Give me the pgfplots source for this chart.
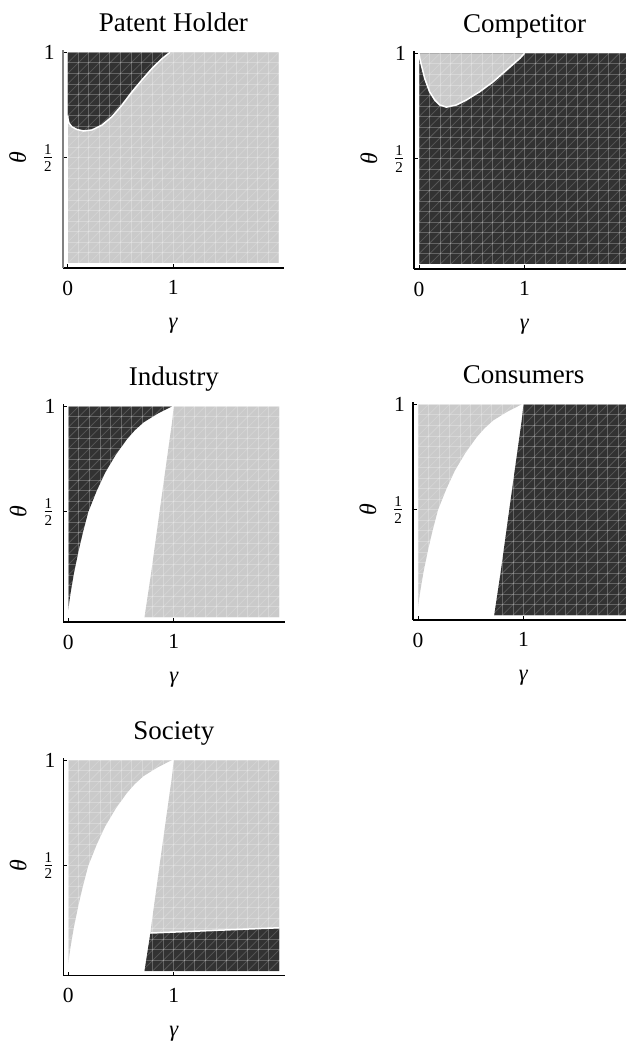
\documentclass[border=0pt]{standalone}
\usepackage{pgfplots}
\pgfplotsset{compat=1.18}
\usepackage{pgfplotstable}
\usepackage{fontspec}
\setmainfont{Liberation Serif}
\definecolor{dk}{HTML}{323232}
\definecolor{lt}{HTML}{CACACA}

% diagonal mesh lines (decoration of the region plots)
\pgfplotstableread{
x y
-2.0 0
0.0 1
nan nan
-1.9 0
0.1 1
nan nan
-1.8 0
0.2 1
nan nan
-1.7 0
0.3 1
nan nan
-1.6 0
0.4 1
nan nan
-1.5 0
0.5 1
nan nan
-1.4 0
0.6 1
nan nan
-1.3 0
0.7 1
nan nan
-1.2 0
0.8 1
nan nan
-1.1 0
0.9 1
nan nan
-1.0 0
1.0 1
nan nan
-0.9 0
1.1 1
nan nan
-0.8 0
1.2 1
nan nan
-0.7 0
1.3 1
nan nan
-0.6 0
1.4 1
nan nan
-0.5 0
1.5 1
nan nan
-0.4 0
1.6 1
nan nan
-0.3 0
1.7 1
nan nan
-0.2 0
1.8 1
nan nan
-0.1 0
1.9 1
nan nan
0.0 0
2.0 1
nan nan
0.1 0
2.1 1
nan nan
0.2 0
2.2 1
nan nan
0.3 0
2.3 1
nan nan
0.4 0
2.4 1
nan nan
0.5 0
2.5 1
nan nan
0.6 0
2.6 1
nan nan
0.7 0
2.7 1
nan nan
0.8 0
2.8 1
nan nan
0.9 0
2.9 1
nan nan
1.0 0
3.0 1
nan nan
1.1 0
3.1 1
nan nan
1.2 0
3.2 1
nan nan
1.3 0
3.3 1
nan nan
1.4 0
3.4 1
nan nan
1.5 0
3.5 1
nan nan
1.6 0
3.6 1
nan nan
1.7 0
3.7 1
nan nan
1.8 0
3.8 1
nan nan
1.9 0
3.9 1
nan nan
2.0 0
4.0 1
}\diag

\pgfplotsset{
  panel/.style={
    anchor=origin, x=42.2pt, y=84.4pt,
    xmin=-0.047, xmax=2.05, ymin=-0.022, ymax=1.01,
    axis lines=left, axis line style={-, black, line width=0.45pt},
    xtick={0,1}, xticklabels={0,1},
    ytick={0.5,1}, yticklabels={$\frac{\mathrm{1}}{\mathrm{2}}$,1},
    tick align=inside, major tick length=1.6pt,
    major tick style={black, line width=0.4pt},
    minor xtick={0,0.1,...,2.01}, minor ytick={0,0.05,...,1.01},
    minor tick length=0pt,
    grid=minor, minor grid style={white, opacity=0.25, line width=0.35pt},
    axis on top,
    /pgf/number format/assume math mode=true,
    tick label style={font=\fontsize{8.6}{10}\selectfont},
    xticklabel style={yshift=-1.6pt},
    yticklabel style={xshift=0.3pt},
    every axis title/.style={at={(axis description cs:0.5,1.085)}, anchor=base,
      font=\fontsize{10.8}{13}\selectfont},
    every axis x label/.style={at={(axis description cs:0.5,-0.278)}, anchor=base,
      font=\fontsize{9}{10}\selectfont},
    every axis y label/.style={at={(axis description cs:-0.204,0.5058)}, anchor=center,
      rotate=90, font=\fontsize{9.5}{10}\selectfont},
    xlabel={\textit{γ}}, ylabel={\textit{θ}},
  },
  mesh/.style={white, opacity=0.18, line width=0.3pt, unbounded coords=jump, forget plot},
  sep/.style={white, line width=0.6pt, forget plot},
}

\begin{document}
\begin{tikzpicture}
\useasboundingbox (0,0) rectangle (250.4pt,-418pt);
\clip (0,0) rectangle (250.4pt,-418pt);

% ---------- Patent Holder ----------
\begin{axis}[panel, at={(27.08pt,-105.32pt)}, title={Patent Holder},
  y axis line style={gray, line width=0.8pt}]
\addplot[fill=lt, draw=none] coordinates {(0,0) (2,0) (2,1) (0,1)} -- cycle;
\addplot[fill=dk, draw=none] coordinates {(0,1) (0,0.70) (0.004,0.68) (0.012,0.664) (0.04,0.647) (0.088,0.634) (0.151,0.627) (0.23,0.632) (0.325,0.655) (0.42,0.695) (0.515,0.75) (0.61,0.813) (0.704,0.869) (0.8,0.924) (0.894,0.97) (0.97,1)} -- cycle;
\addplot[mesh] table {\diag};
\addplot[sep] coordinates {(0,0.70) (0.004,0.68) (0.012,0.664) (0.04,0.647) (0.088,0.634) (0.151,0.627) (0.23,0.632) (0.325,0.655) (0.42,0.695) (0.515,0.75) (0.61,0.813) (0.704,0.869) (0.8,0.924) (0.894,0.97) (0.97,1)};
\end{axis}

% ---------- Competitor ----------
\begin{axis}[panel, at={(167.6pt,-105.72pt)}, title={Competitor}]
\addplot[fill=dk, draw=none] coordinates {(0,0) (2,0) (2,1) (0,1)} -- cycle;
\addplot[fill=lt, draw=none] coordinates {(0,1) (0.008,0.975) (0.022,0.945) (0.054,0.881) (0.1,0.818) (0.149,0.779) (0.196,0.755) (0.26,0.745) (0.354,0.755) (0.45,0.779) (0.576,0.818) (0.703,0.865) (0.83,0.921) (0.956,0.976) (1,1)} -- cycle;
\addplot[mesh] table {\diag};
\addplot[sep] coordinates {(0,1) (0.008,0.975) (0.022,0.945) (0.054,0.881) (0.1,0.818) (0.149,0.779) (0.196,0.755) (0.26,0.745) (0.354,0.755) (0.45,0.779) (0.576,0.818) (0.703,0.865) (0.83,0.921) (0.956,0.976) (1,1)};
\end{axis}

% ---------- Industry ----------
\begin{axis}[panel, at={(27.32pt,-246.92pt)}, title={Industry}]
\addplot[fill=dk, draw=none] coordinates {(0,1) (0,0.035) (0.01,0.075) (0.025,0.125) (0.054,0.21) (0.1,0.32) (0.14,0.405) (0.19,0.5) (0.27,0.6) (0.35,0.686) (0.45,0.77) (0.556,0.844) (0.63,0.886) (0.714,0.924) (0.85,0.966) (0.984,1)} -- cycle;
\addplot[fill=lt, draw=none] coordinates {(0.722,0) (0.785,0.21) (0.862,0.49) (0.912,0.67) (0.958,0.835) (0.982,0.92) (1,1) (2,1) (2,0)} -- cycle;
\addplot[mesh] table {\diag};
\end{axis}

% ---------- Consumers ----------
\begin{axis}[panel, at={(167.2pt,-246.12pt)}, title={Consumers}]
\addplot[fill=lt, draw=none] coordinates {(0,1) (0,0.035) (0.01,0.075) (0.025,0.125) (0.054,0.21) (0.1,0.32) (0.14,0.405) (0.19,0.5) (0.27,0.6) (0.35,0.686) (0.45,0.77) (0.556,0.844) (0.63,0.886) (0.714,0.924) (0.85,0.966) (0.984,1)} -- cycle;
\addplot[fill=dk, draw=none] coordinates {(0.722,0) (0.785,0.21) (0.862,0.49) (0.912,0.67) (0.958,0.835) (0.982,0.92) (1,1) (2,1) (2,0)} -- cycle;
\addplot[mesh] table {\diag};
\end{axis}

% ---------- Society ----------
\begin{axis}[panel, at={(27.32pt,-388.4pt)}, title={Society}]
\addplot[fill=lt, draw=none] coordinates {(0,1) (0,0.035) (0.01,0.075) (0.025,0.125) (0.054,0.21) (0.1,0.32) (0.14,0.405) (0.19,0.5) (0.27,0.6) (0.35,0.686) (0.45,0.77) (0.556,0.844) (0.63,0.886) (0.714,0.924) (0.85,0.966) (0.984,1)} -- cycle;
\addplot[fill=lt, draw=none] coordinates {(0.778,0.18) (0.785,0.21) (0.862,0.49) (0.912,0.67) (0.958,0.835) (0.982,0.92) (1,1) (2,1) (2,0.205)} -- cycle;
\addplot[fill=dk, draw=none] coordinates {(0.722,0) (0.778,0.18) (2,0.205) (2,0)} -- cycle;
\addplot[mesh] table {\diag};
\addplot[sep] coordinates {(0.778,0.18) (2,0.205)};
\end{axis}
\end{tikzpicture}
\end{document}
